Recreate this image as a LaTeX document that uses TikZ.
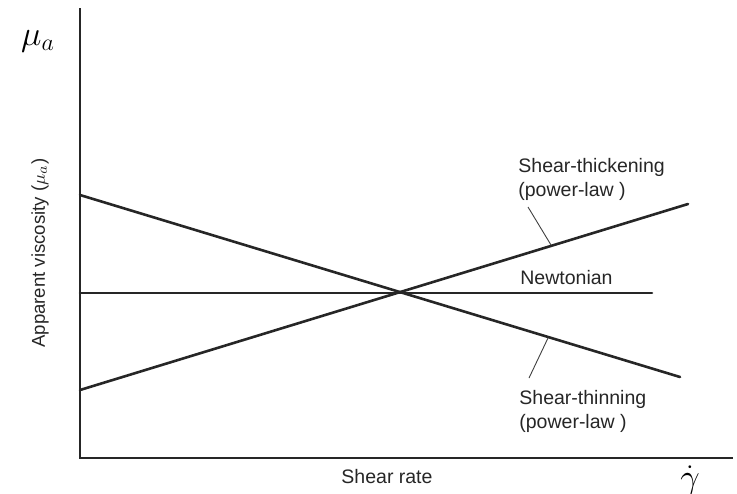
\documentclass[tikz,border=0pt]{standalone}
\usepackage{fontspec}
\setmainfont{Liberation Sans}
\usetikzlibrary{positioning}
\tikzset{
  axisline/.style={line width=0.9pt,draw=black!85},
  curve/.style={line width=1.3pt,draw=black!85,line cap=round},
  leader/.style={line width=0.45pt,draw=black!75},
  lbl/.style={font=\fontsize{9.75}{12}\selectfont,align=left,inner sep=0pt,text=black!85},
  symb/.style={font=\fontsize{18}{20}\selectfont,inner sep=0pt}
}

\begin{document}
\begin{tikzpicture}[x=0.5pt,y=-0.5pt]
  \useasboundingbox (0,0) rectangle (737,493);
  % axes
  \coordinate (ytop) at (80,8);
  \coordinate (origin) at (80,458);
  \coordinate (xend) at (733,458);
  \draw[axisline] (ytop) -- (origin) -- (xend);

  % flow curves
  \coordinate (thin0) at (80,195);
  \coordinate (thin1) at (680,377);
  \coordinate (thick0) at (80,390);
  \coordinate (thick1) at (688,204);
  \coordinate (newt0) at (80,293);
  \coordinate (newt1) at (652,293);
  \draw[curve] (thin0) -- (thin1);
  \draw[curve] (thick0) -- (thick1);
  \draw[curve] (newt0) -- (newt1);

  % labels
  \node[lbl,anchor=west] (thicklbl) at (518,179) {Shear-thickening\\(power-law )};
  \node[lbl,anchor=west] (newtlbl) at (520,278) {Newtonian};
  \node[lbl,anchor=west] (thinlbl) at (519,411) {Shear-thinning\\(power-law )};
  \node[lbl] (xlbl) at (387,477) {Shear rate};
  \node[lbl,rotate=90,font=\fontsize{9.3}{11}\selectfont] (ylbl) at (40,253) {Apparent viscosity ($\mu_a$)};
  \node[symb] (mu) at (38,41) {$\mu_a$};
  \node[symb] (gdot) at (690,481) {$\dot{\gamma}$};

  % leader lines
  \coordinate (thicktail) at (528,207);
  \coordinate (thickfoot) at (551,245);
  \coordinate (thintail) at (529,378);
  \coordinate (thinfoot) at (548,338);
  \draw[leader] (thicktail) -- (thickfoot);
  \draw[leader] (thintail) -- (thinfoot);
\end{tikzpicture}
\end{document}
